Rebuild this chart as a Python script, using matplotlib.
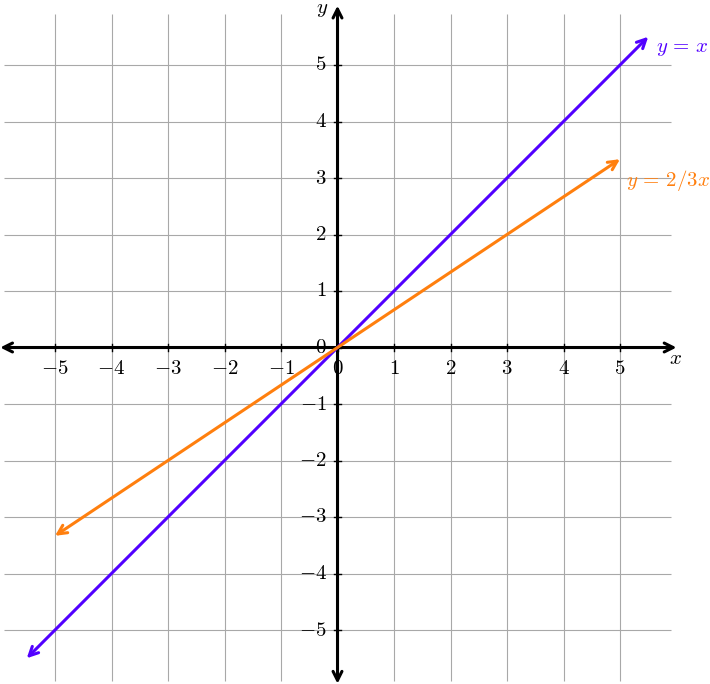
import matplotlib
matplotlib.use("Agg")
import matplotlib.pyplot as plt

plt.rcParams['mathtext.fontset'] = 'cm'
plt.rcParams['font.family'] = ['DejaVu Serif']

# ---- data ----
xticks = [-5, -4, -3, -2, -1, 0, 1, 2, 3, 4, 5]
yticks = [-5, -4, -3, -2, -1, 0, 1, 2, 3, 4, 5]
line1_x = [-5.5, 5.5]
line1_y = [-5.5, 5.5]
line1_label = r'$y\,=\,x$'
line2_x = [-5.0, 5.0]
line2_y = [-3.333, 3.333]
line2_label = r'$y\,=\,2/3x$'

BLUE = '#5200FF'
ORANGE = '#FF7F0E'

fig = plt.figure(figsize=(7.10, 6.84), dpi=100)
ax = fig.add_axes([0, 0, 1, 1])
ux = 56.5
x0 = 337.5
y0 = 347.5
ax.set_xlim(-x0 / ux, (710 - x0) / ux)
ax.set_ylim(-(684 - y0) / ux, y0 / ux)
ax.axis('off')

# grid
g = 5.9
ax.vlines(xticks, -g, g, color='#a8a8a8', lw=0.8, zorder=1)
ax.hlines(yticks, -g, g, color='#a8a8a8', lw=0.8, zorder=1)

# axes with arrows
ax.annotate('', xy=(6.0, 0), xytext=(-5.97, 0),
            arrowprops=dict(arrowstyle='<->', color='black', lw=2.2,
                            mutation_scale=16, shrinkA=0, shrinkB=0), zorder=3)
ax.annotate('', xy=(0, 6.05), xytext=(0, -5.95),
            arrowprops=dict(arrowstyle='<->', color='black', lw=2.2,
                            mutation_scale=16, shrinkA=0, shrinkB=0), zorder=3)

# tick marks
tk = 0.06
for t in xticks:
    ax.plot([t, t], [-tk, tk], color='black', lw=1.0, zorder=3)
for t in yticks:
    ax.plot([-tk, tk], [t, t], color='black', lw=1.0, zorder=3)

fs = 15
for t in xticks:
    ax.text(t, -0.38, rf'${t}$', ha='center', va='center', fontsize=fs, zorder=2)
for t in yticks:
    ax.text(-0.19, t, rf'${t}$', ha='right', va='center', fontsize=fs, zorder=2)

ax.text(5.99, -0.2, r'$x$', ha='center', va='center', fontsize=fs)
ax.text(-0.27, 5.98, r'$y$', ha='center', va='center', fontsize=fs)

# function lines
ax.annotate('', xy=(line1_x[1], line1_y[1]), xytext=(line1_x[0], line1_y[0]),
            arrowprops=dict(arrowstyle='<->', color=BLUE, lw=2.2,
                            mutation_scale=16, shrinkA=0, shrinkB=0), zorder=4)
ax.annotate('', xy=(line2_x[1], line2_y[1]), xytext=(line2_x[0], line2_y[0]),
            arrowprops=dict(arrowstyle='<->', color=ORANGE, lw=2.2,
                            mutation_scale=16, shrinkA=0, shrinkB=0), zorder=4)

ax.text(5.64, 5.3, line1_label, color=BLUE, ha='left', va='center', fontsize=fs)
ax.text(5.1, 2.96, line2_label, color=ORANGE, ha='left', va='center', fontsize=fs)

fig.savefig('out.png', dpi=100)
